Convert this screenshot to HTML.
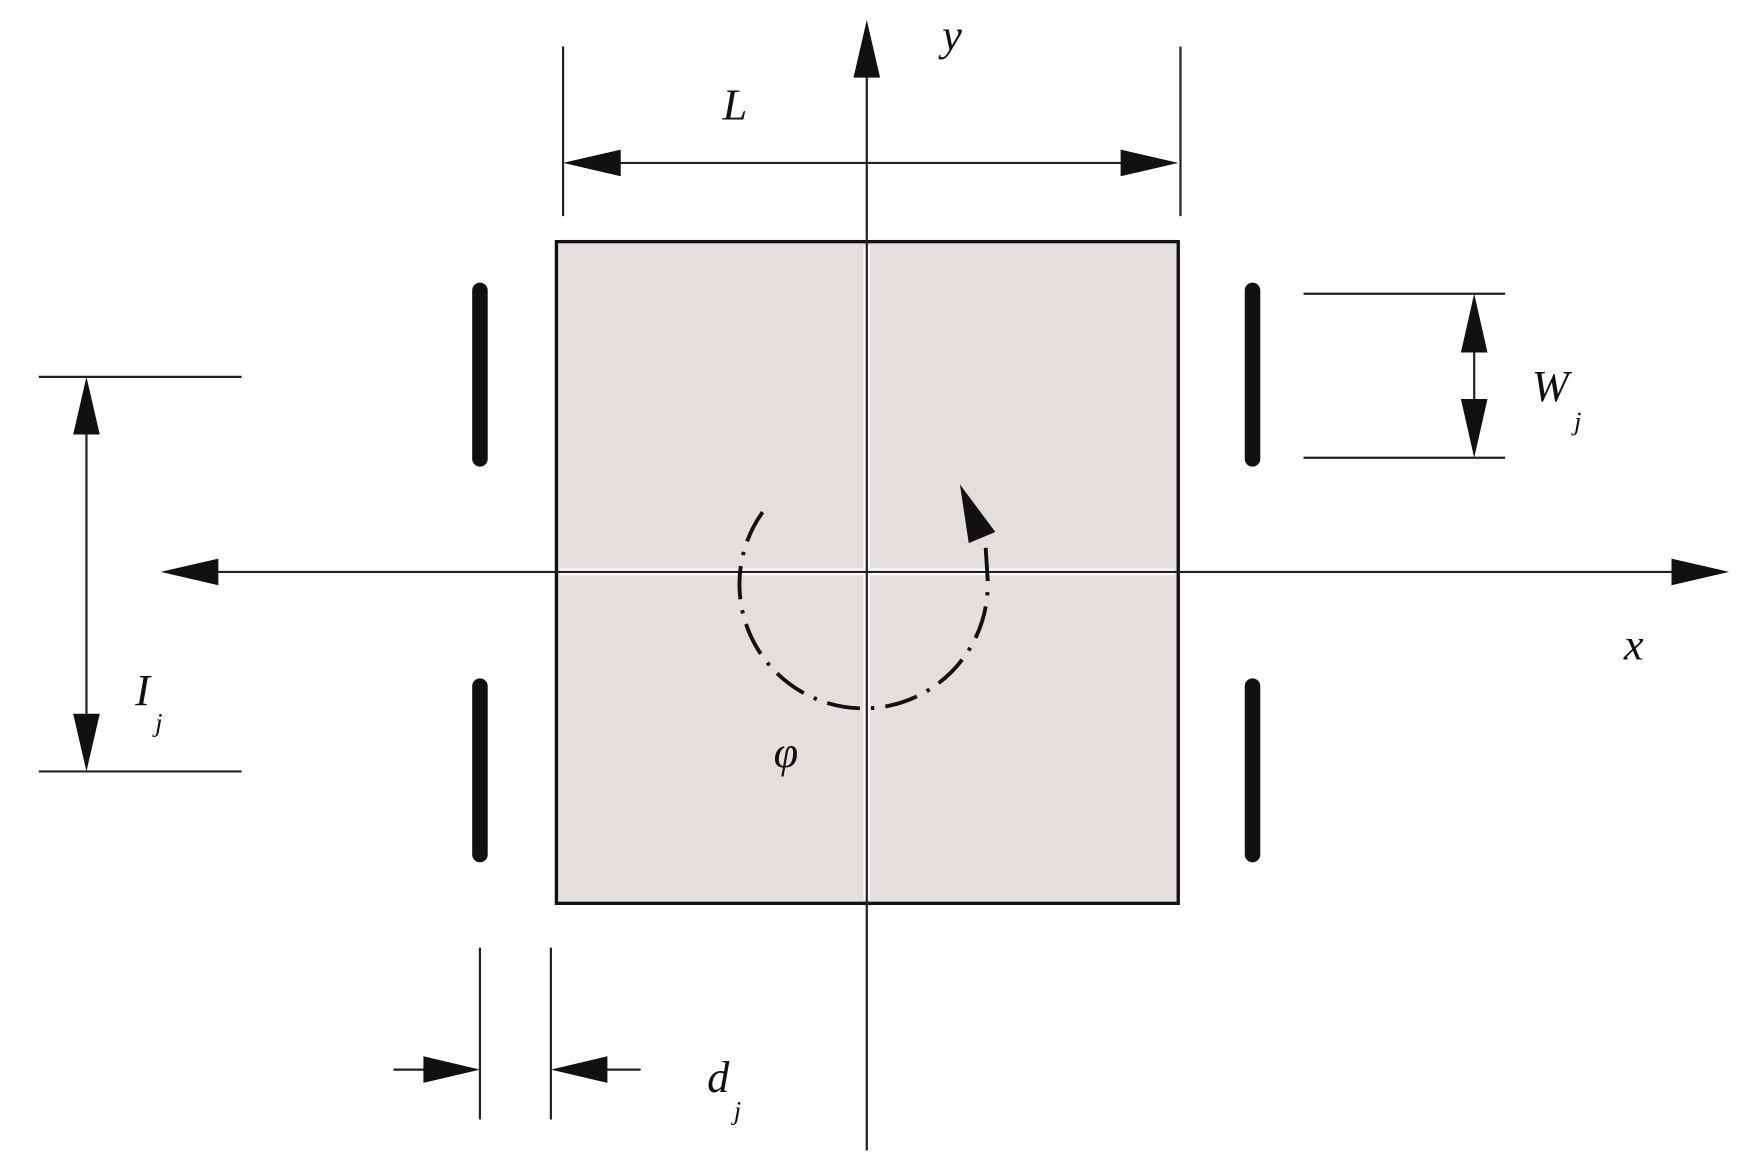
<!DOCTYPE html>
<html><head><meta charset="utf-8"><style>
html,body{margin:0;padding:0;background:#fff;}
svg{display:block;}
text{font-family:"Liberation Serif",serif;font-style:italic;fill:#111;}
</style></head><body>
<svg width="1738" height="1176" viewBox="0 0 1568 1061" preserveAspectRatio="none" xmlns="http://www.w3.org/2000/svg">
<rect x="502" y="218" width="561" height="597" fill="#e4dfdd" stroke="#111" stroke-width="3"/>
<g stroke="#fff" stroke-width="6">
<line x1="782" y1="221" x2="782" y2="812"/>
<line x1="505" y1="516" x2="1060" y2="516"/>
</g>
<g stroke="#222" stroke-width="2" fill="none">
<line x1="782" y1="60" x2="782" y2="1038"/>
<line x1="190" y1="516" x2="1515" y2="516"/>
<line x1="508" y1="42" x2="508" y2="195"/>
<line x1="1065" y1="42" x2="1065" y2="195"/>
<line x1="550" y1="147" x2="1020" y2="147"/>
<line x1="1176" y1="265" x2="1358" y2="265"/>
<line x1="1176" y1="413" x2="1358" y2="413"/>
<line x1="1330" y1="300" x2="1330" y2="380"/>
<line x1="35" y1="340" x2="218" y2="340"/>
<line x1="35" y1="696" x2="218" y2="696"/>
<line x1="78" y1="380" x2="78" y2="656"/>
<line x1="433" y1="855" x2="433" y2="1010"/>
<line x1="497" y1="855" x2="497" y2="1010"/>
<line x1="355" y1="965" x2="400" y2="965"/>
<line x1="530" y1="965" x2="578" y2="965"/>
</g>
<g fill="#111">
<polygon points="782,18 770,70 794,70"/>
<polygon points="145,516 197,504 197,528"/>
<polygon points="1560,516 1508,504 1508,528"/>
<polygon points="508,147 560,135 560,159"/>
<polygon points="1063,147 1011,135 1011,159"/>
<polygon points="1330,265 1318,318 1342,318"/>
<polygon points="1330,413 1318,360 1342,360"/>
<polygon points="78,340 66,392 90,392"/>
<polygon points="78,696 66,644 90,644"/>
<polygon points="433,965 382,953 382,977"/>
<polygon points="497,965 548,953 548,977"/>
</g>
<g stroke="#111" stroke-width="14" stroke-linecap="round">
<line x1="433" y1="262" x2="433" y2="414"/>
<line x1="433" y1="619" x2="433" y2="771"/>
<line x1="1130" y1="262" x2="1130" y2="414"/>
<line x1="1130" y1="619" x2="1130" y2="771"/>
</g>
<path d="M 688 462 A 112 112 0 1 0 891 522 L 889 490" fill="none" stroke="#111" stroke-width="3.5" stroke-dasharray="30 10 3 10"/>
<polygon points="866,437 874,490 898,480" fill="#111"/>
<text x="850" y="45" font-size="40">y</text>
<text x="1465" y="595" font-size="40">x</text>
<text x="652" y="108" font-size="40">L</text>
<text x="698" y="692" font-size="40">φ</text>
<text x="1382" y="362" font-size="40">W</text><text x="1420" y="388" font-size="24">j</text>
<text x="122" y="636" font-size="40">I</text><text x="140" y="660" font-size="24">j</text>
<text x="638" y="985" font-size="40">d</text><text x="662" y="1010" font-size="24">j</text>
</svg>
</body></html>
